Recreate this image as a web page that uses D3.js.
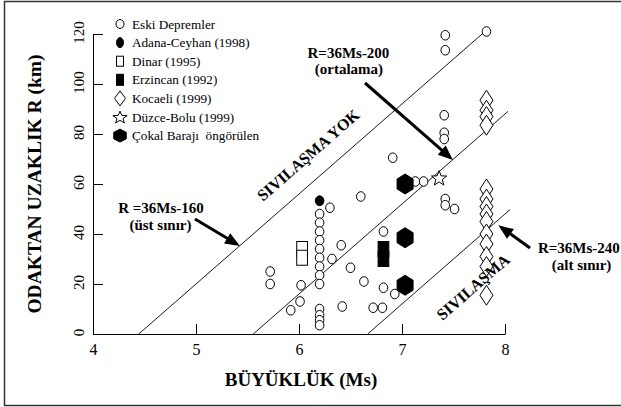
<!DOCTYPE html>
<html>
<head>
<meta charset="utf-8">
<script src="https://cdn.jsdelivr.net/npm/d3@7"></script>
<style>
  body { margin: 0; background: #fff; }
  svg { display: block; }
  svg text { font-family: "Liberation Serif", "Times New Roman", serif; fill: #000; }
</style>
</head>
<body>
<div id="chart"></div>
<script>
// values: [Ms, R km]
const eskiDepremler = [
  [5.72, 25], [5.72, 20], [5.92, 9.5], [6.01, 13], [6.02, 19.5],
  [6.2, 48], [6.2, 44.5], [6.2, 41], [6.2, 37.5], [6.2, 34], [6.2, 30.5], [6.2, 27], [6.2, 23.5], [6.2, 20],
  [6.2, 10], [6.2, 7.5], [6.2, 5.5], [6.2, 3.5],
  [6.3, 50.5], [6.32, 30], [6.41, 35.5], [6.42, 11], [6.5, 26.5], [6.6, 55], [6.63, 21],
  [6.72, 10.5], [6.81, 10.5], [6.82, 41], [6.82, 18.5], [6.91, 70.5], [6.93, 16],
  [7.13, 61], [7.21, 61], [7.42, 54], [7.42, 51.5], [7.51, 50],
  [7.41, 87.5], [7.41, 80.5], [7.41, 78], [7.42, 119.5], [7.42, 113.5], [7.82, 121]
];
const adanaCeyhan = [[6.2, 53.3]];
const dinar = [[6.03, 34], [6.03, 30.5]];
const erzincan = [[6.82, 34], [6.82, 30]];
const kocaeli = [
  [7.82, 93.5], [7.82, 89.5], [7.82, 87], [7.82, 83.5],
  [7.82, 58], [7.82, 54], [7.82, 51], [7.82, 48], [7.82, 45], [7.82, 40], [7.82, 36], [7.82, 31], [7.82, 27],
  [7.82, 15.5]
];
const duzceBolu = [[7.36, 62.5]];
const cokal = [[7.03, 60], [7.03, 38.5], [7.03, 19.5]];

const xTicks = [4, 5, 6, 7, 8];
const yTicks = [0, 20, 40, 60, 80, 100, 120];

// R = 36Ms + b, drawn from R = 0 up to Ms = end
const slope = 36;
const intercepts = [-160, -200, -240];
const lineEnds = [7.81, 8.03, 8.05];

const legendLabels = ["Eski Depremler", "Adana-Ceyhan (1998)", "Dinar (1995)", "Erzincan (1992)",
  "Kocaeli (1999)", "Düzce-Bolu (1999)", "Çokal Barajı  öngörülen"];
const legendTypes = ["circle", "dot", "square", "fsquare", "diamond", "star", "hex"];

const noteTexts = ["R=36Ms-200", "(ortalama)", "R =36Ms-160", "(üst sınır)", "R=36Ms-240", "(alt sınır)"];
const notePos = [[6.48, 110.4], [6.485, 104], [4.66, 48.6], [4.655, 41.8], [8.32, 32.4], [8.743, 25.8]];
const noteAnchor = ["middle", "middle", "middle", "middle", "start", "middle"];

const arrowFrom = [[6.641, 100.4], [4.99, 46], [8.243, 34.4]];
const arrowTo = [[7.495, 69.6], [5.427, 35.2], [7.935, 43.5]];

const zoneTexts = ["SIVILAŞMA YOK", "SIVILAŞMA"];
const zonePos = [[6.09, 71.6], [7.69, 18.8]];

const width = 621, height = 407;
const serif = "Liberation Serif";

const svg = d3.select("#chart").append("svg")
  .attr("width", width)
  .attr("height", height)
  .attr("font-family", serif);

svg.append("rect")
  .attr("x", 4.5).attr("y", 1.5)
  .attr("width", 640).attr("height", 404)
  .attr("fill", "none").attr("stroke", "#333").attr("stroke-width", 1.5);

const x = d3.scaleLinear().domain([4, 8]).range([93, 505]);
const y = d3.scaleLinear().domain([0, 120]).range([334, 34]);

// axes with inward ticks
const xAxis = svg.append("g")
  .attr("transform", `translate(0, ${y(0)})`)
  .call(d3.axisBottom(x).tickValues(xTicks).tickFormat(d3.format("d"))
    .tickSizeInner(-10).tickSizeOuter(0).tickPadding(12));
xAxis.attr("font-family", serif);
xAxis.selectAll("text").attr("font-size", 16).attr("dy", "0.55em");

const yAxis = svg.append("g")
  .attr("transform", `translate(${x(4)}, 0)`)
  .call(d3.axisLeft(y).tickValues(yTicks).tickFormat(d3.format("d"))
    .tickSizeInner(-10).tickSizeOuter(0));
yAxis.attr("font-family", serif);
yAxis.selectAll("text")
  .attr("x", null).attr("dy", null)
  .attr("text-anchor", "middle")
  .attr("font-size", 15)
  .attr("transform", "translate(-9.5, -2) rotate(-90)");

svg.selectAll(".domain, .tick line").attr("stroke", "#000").attr("stroke-width", 1);

svg.append("text")
  .attr("transform", `translate(41, 184) rotate(-90)`)
  .attr("text-anchor", "middle")
  .attr("font-size", 19.5).attr("font-weight", "bold")
  .text("ODAKTAN UZAKLIK R (km)");

svg.append("text")
  .attr("x", 301).attr("y", 386)
  .attr("text-anchor", "middle")
  .attr("font-size", 19).attr("font-weight", "bold")
  .text("BÜYÜKLÜK (Ms)");

// boundary lines
intercepts.forEach((b, i) => {
  const m0 = -b / slope;
  svg.append("line")
    .attr("x1", x(m0)).attr("y1", y(0))
    .attr("x2", x(lineEnds[i])).attr("y2", y(slope * lineEnds[i] + b))
    .attr("stroke", "#000").attr("stroke-width", 0.9);
});

// marker shapes
function markerPath(type, w, h) {
  const a = w / 2, b = h / 2;
  if (type === "diamond") return `M0,${-b}L${a},0L0,${b}L${-a},0Z`;
  if (type === "hex") return `M0,${-b}L${a},${-b / 2}L${a},${b / 2}L0,${b}L${-a},${b / 2}L${-a},${-b / 2}Z`;
  if (type === "star") {
    const pts = d3.range(10).map(k => {
      const ang = -Math.PI / 2 + k * Math.PI / 5;
      const r = k % 2 ? 0.42 : 1;
      return [a * r * Math.cos(ang), b * r * Math.sin(ang) + b * 0.1];
    });
    return "M" + pts.map(p => p.join(",")).join("L") + "Z";
  }
  return "";
}

const plotSize = { circle: [8.6, 9.6], dot: [8.6, 9.8], square: [10.7, 15], fsquare: [10.7, 15], diamond: [13, 20], star: [16, 16], hex: [16, 20] };
const legendSize = { circle: [8, 9], dot: [7, 10], square: [7, 10], fsquare: [7, 11], diamond: [11, 15], star: [15, 13], hex: [12.5, 13] };

function drawMarker(g, type, cx, cy, size) {
  const [w, h] = size[type];
  const filled = type === "dot" || type === "fsquare" || type === "hex";
  let el;
  if (type === "circle" || type === "dot") {
    el = g.append("ellipse").attr("cx", cx).attr("cy", cy).attr("rx", w / 2).attr("ry", h / 2);
  } else if (type === "square" || type === "fsquare") {
    el = g.append("rect").attr("x", cx - w / 2).attr("y", cy - h / 2).attr("width", w).attr("height", h);
  } else {
    el = g.append("path").attr("transform", `translate(${cx},${cy})`).attr("d", markerPath(type, w, h));
  }
  el.attr("fill", filled ? "#000" : "#fff").attr("stroke", "#000").attr("stroke-width", 1);
}

const marks = svg.append("g");
const seriesList = [
  [eskiDepremler, "circle"], [dinar, "square"], [erzincan, "fsquare"], [cokal, "hex"],
  [kocaeli, "diamond"], [duzceBolu, "star"], [adanaCeyhan, "dot"]
];
seriesList.forEach(([data, type]) => {
  data.forEach(d => drawMarker(marks, type, x(d[0]), y(d[1]), plotSize));
});

// legend
const legend = svg.append("g");
legendLabels.forEach((label, i) => {
  const cy = 24 + i * 18.6;
  drawMarker(legend, legendTypes[i], 120, cy, legendSize);
  legend.append("text")
    .attr("x", 132).attr("y", cy + 4.5)
    .attr("font-size", 13.2)
    .style("white-space", "pre")
    .text(label);
});

// annotations
noteTexts.forEach((t, i) => {
  svg.append("text")
    .attr("x", x(notePos[i][0])).attr("y", y(notePos[i][1]))
    .attr("text-anchor", noteAnchor[i])
    .attr("font-size", 15).attr("font-weight", "bold")
    .text(t);
});

arrowFrom.forEach((f, i) => {
  const x1 = x(f[0]), y1 = y(f[1]);
  const x2 = x(arrowTo[i][0]), y2 = y(arrowTo[i][1]);
  const ang = Math.atan2(y2 - y1, x2 - x1);
  const len = 15, half = 6;
  const bx = x2 - len * Math.cos(ang), by = y2 - len * Math.sin(ang);
  svg.append("line")
    .attr("x1", x1).attr("y1", y1).attr("x2", bx + 2 * Math.cos(ang)).attr("y2", by + 2 * Math.sin(ang))
    .attr("stroke", "#000").attr("stroke-width", 3);
  const px = -Math.sin(ang) * half, py = Math.cos(ang) * half;
  svg.append("path")
    .attr("d", `M${x2},${y2}L${bx + px},${by + py}L${bx - px},${by - py}Z`)
    .attr("fill", "#000");
});

const angle = -Math.atan((y(0) - y(slope)) / (x(5) - x(4))) * 180 / Math.PI;
zoneTexts.forEach((t, i) => {
  svg.append("text")
    .attr("transform", `translate(${x(zonePos[i][0])}, ${y(zonePos[i][1])}) rotate(${angle})`)
    .attr("y", 5.5)
    .attr("text-anchor", "middle")
    .attr("font-size", 16).attr("font-weight", "bold")
    .text(t);
});
</script>
</body>
</html>
